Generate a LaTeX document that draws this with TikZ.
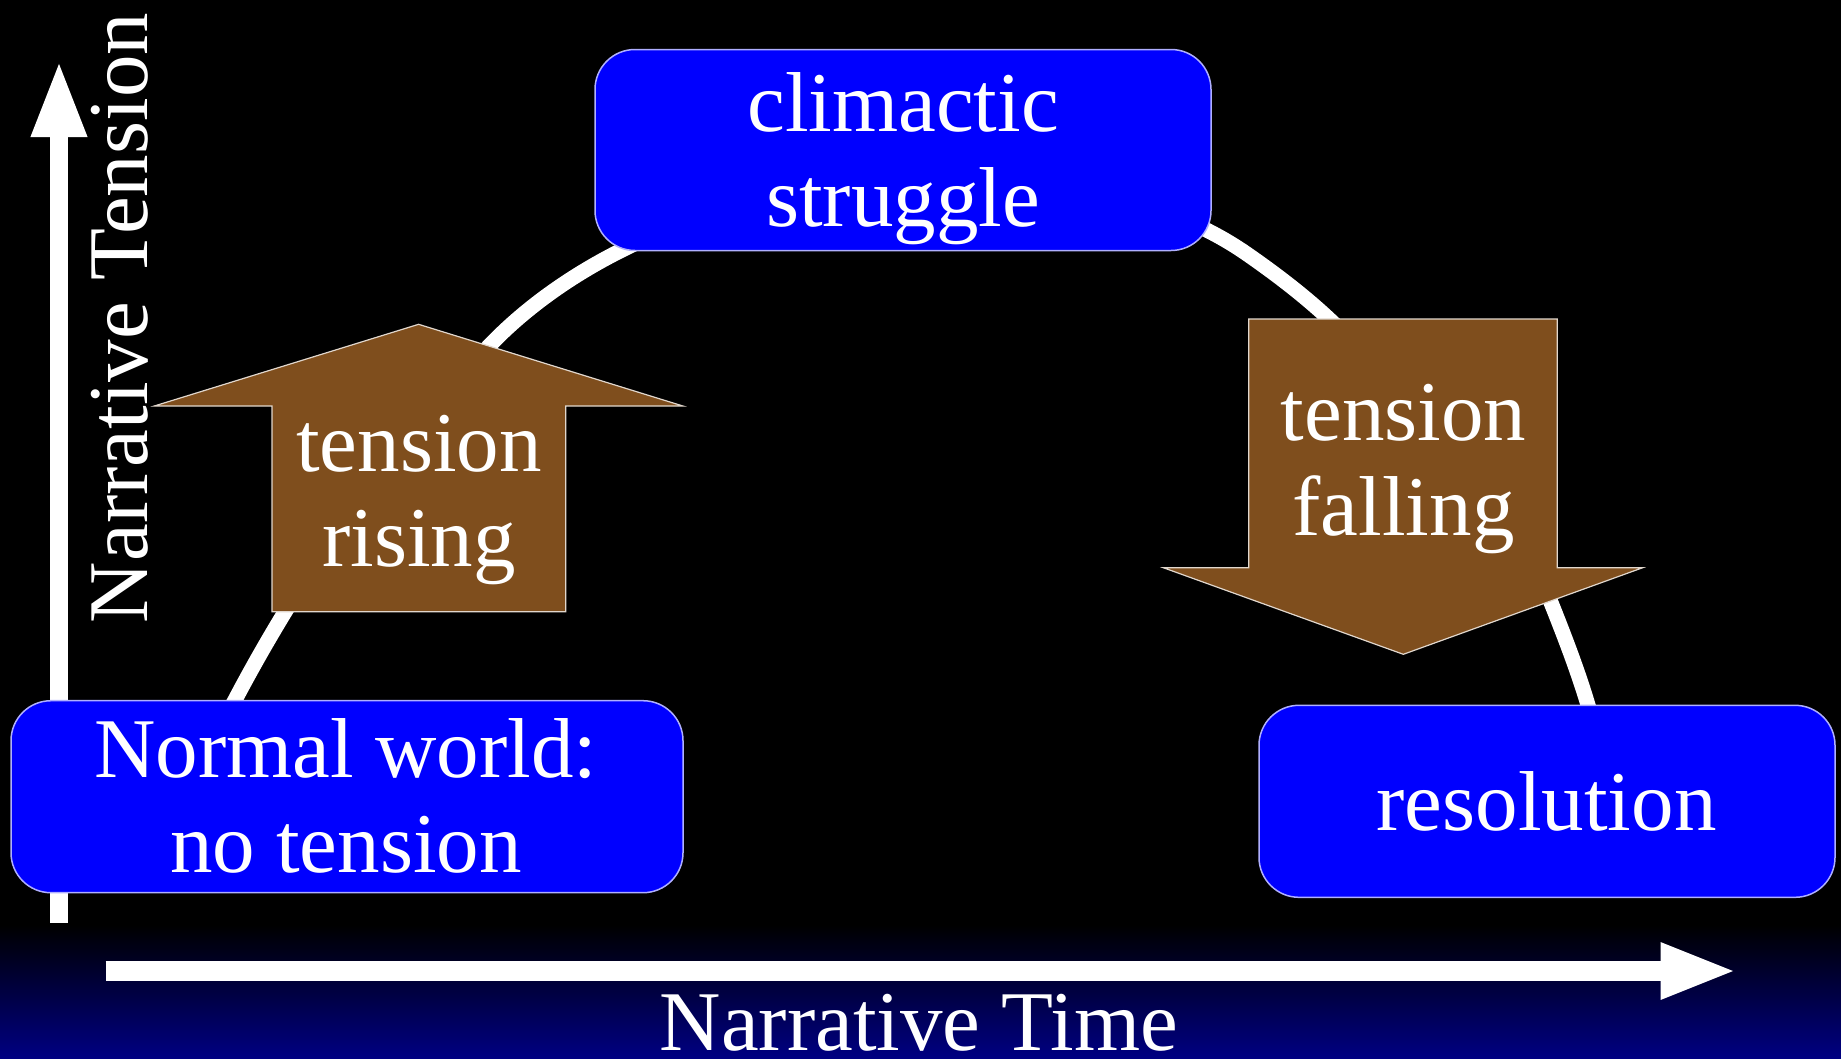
\documentclass[tikz,border=0pt]{standalone}
\usepackage{fontspec}
\setmainfont{Liberation Serif}
\usetikzlibrary{arrows.meta}
\definecolor{boxblue}{RGB}{0,0,255}
\definecolor{boxedge}{RGB}{175,175,255}
\definecolor{brownfill}{RGB}{127,78,29}
\definecolor{arrowedge}{RGB}{225,215,205}
\definecolor{navyband}{RGB}{0,0,130}
\begin{document}
\begin{tikzpicture}[x=1pt,y=-1pt,
  bluebox/.style={draw=boxedge, line width=1.5pt, fill=boxblue, rounded corners=40pt, inner sep=0pt},
  brownarrow/.style={draw=arrowedge, line width=1.2pt, fill=brownfill, line join=miter},
  txt/.style={text=white, font=\fontsize{85}{95}\selectfont, align=center, inner sep=0pt},
  axisarrow/.style={draw=white, line width=#1, -{Triangle[length=77pt,width=51pt]}},
  storyline/.style={draw=white, line width=15pt, line join=round}
]
\useasboundingbox (0,0) rectangle (1841,1058);
\fill[black] (0,0) rectangle (1841,1058);
\shade[top color=black, bottom color=navyband] (0,925) rectangle (1841,1058);

% story curve
\draw[storyline] (223,722) -- (235,700)
  .. controls (303,571) and (389,450) .. (490,345)
  .. controls (527.4,306.1) and (573.7,274.1) .. (622,250)
  .. controls (715,203.5) and (821,178) .. (925,178)
  .. controls (1035,178) and (1156.7,191.1) .. (1247,254)
  .. controls (1274.9,273.4) and (1303.1,294.8) .. (1328,318)
  .. controls (1415.7,399.8) and (1505.5,488.6) .. (1550,600)
  .. controls (1563.7,634.3) and (1577.4,669.6) .. (1588,705)
  -- (1594,725);

% axes
\coordinate (yfoot) at (59,922.7);
\coordinate (ytip) at (59,60);
\draw[axisarrow=18pt] (yfoot) -- (ytip);
\coordinate (xfoot) at (105.7,971);
\coordinate (xtip) at (1737.7,971);
\draw[axisarrow=20pt] (xfoot) -- (xtip);

% brown arrows
\filldraw[brownarrow] (272,611.7) -- (272,406) -- (154.3,406) -- (418.6,324.3) -- (682.9,406) -- (565.7,406) -- (565.7,611.7) -- cycle;
\filldraw[brownarrow] (1248.7,319) -- (1557.3,319) -- (1557.3,567.7) -- (1642.7,567.7) -- (1403.3,654.3) -- (1163.3,567.7) -- (1248.7,567.7) -- cycle;

% boxes
\node[bluebox, minimum width=616pt, minimum height=201pt] (climax) at (903,150) {};
\node[bluebox, minimum width=672pt, minimum height=192pt] (normal) at (347,796.7) {};
\node[bluebox, minimum width=576pt, minimum height=192pt] (resol) at (1547,801.3) {};

% texts (base anchor = baseline of the last line)
\node[txt, anchor=base] (climaxtext) at (903,226.7) {climactic\\struggle};
\node[txt, anchor=base] (normaltext) at (346,872.7) {Normal world:\\no tension};
\node[txt, anchor=base] (resoltext) at (1546.5,830) {resolution};
\node[txt, anchor=base] (risetext) at (419,566.7) {tension\\rising};
\node[txt, anchor=base] (falltext) at (1403.5,535) {tension\\falling};
\node[txt, rotate=90, anchor=base] (ylabel) at (147,318) {Narrative Tension};
\node[txt, anchor=base] (xlabel) at (919,1050.7) {Narrative Time};
\end{tikzpicture}
\end{document}
